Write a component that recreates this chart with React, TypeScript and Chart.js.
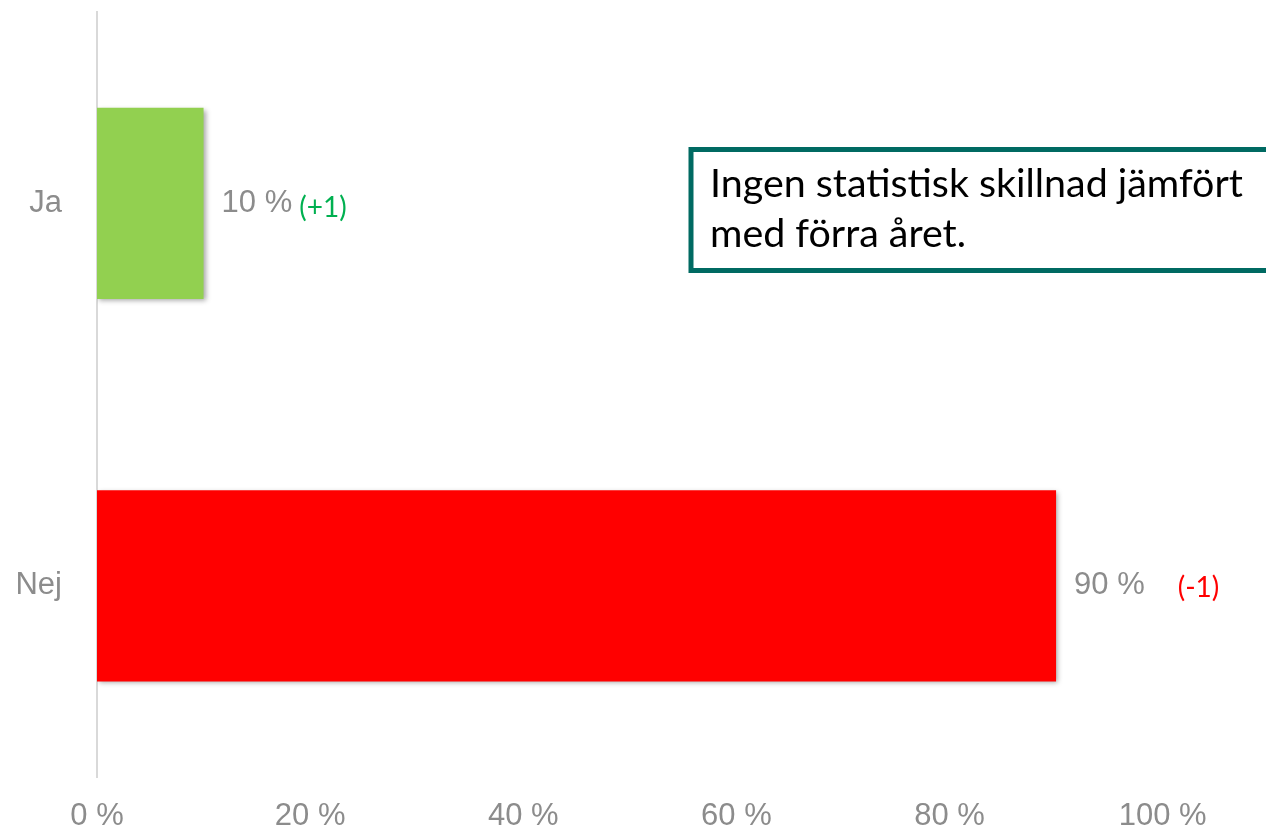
import React, { useEffect, useRef } from "react";
import { Chart, registerables } from "chart.js";

Chart.register(...registerables);

const categories = ["Ja", "Nej"];
const values = [10, 90];
const changes = ["(+1)", "(-1)"];
const barColors = ["#92d050", "#ff0000"];
const changeColors = ["#00b050", "#ff0000"];
const xTicks = [0, 20, 40, 60, 80, 100];
const noteLines = ["Ingen statistisk skillnad jämfört", "med förra året."];

const GRAY = "#8c8c8c";
const TEAL = "#006a62";
const SANS = '"Liberation Sans", Arial, sans-serif';

const shadowPlugin = {
  id: "barShadow",
  beforeDatasetsDraw(chart: any) {
    const ctx = chart.ctx;
    ctx.save();
    ctx.shadowColor = "rgba(0,0,0,0.35)";
    ctx.shadowBlur = 5;
    ctx.shadowOffsetX = 2;
    ctx.shadowOffsetY = 2;
  },
  afterDatasetsDraw(chart: any) {
    chart.ctx.restore();
  },
};

const changeGaps = [7, 33];
const changeDy = [5, 2];

const labelPlugin = {
  id: "valueLabels",
  afterDraw(chart: any) {
    const ctx = chart.ctx;
    const meta = chart.getDatasetMeta(0);
    ctx.save();
    meta.data.forEach((bar: any, i: number) => {
      const x = bar.x + 18;
      const y = bar.y;
      ctx.textAlign = "left";
      ctx.textBaseline = "middle";
      ctx.font = `31px ${SANS}`;
      ctx.fillStyle = GRAY;
      const txt = `${values[i]} %`;
      ctx.fillText(txt, x, y);
      const w = ctx.measureText(txt).width;
      ctx.font = '28px Lato, "Noto Sans", sans-serif';
      ctx.fillStyle = changeColors[i];
      ctx.fillText(changes[i], x + w + changeGaps[i], y + changeDy[i]);
    });
    ctx.restore();
  },
};

const notePlugin = {
  id: "noteBox",
  afterDraw(chart: any) {
    const ctx = chart.ctx;
    ctx.save();
    ctx.fillStyle = "#ffffff";
    ctx.fillRect(691, 149.5, 700, 121);
    ctx.strokeStyle = TEAL;
    ctx.lineWidth = 5;
    ctx.strokeRect(691, 149.5, 700, 121);
    let size = 36;
    ctx.font = `${size}px Lato, "Noto Sans", sans-serif`;
    const w = ctx.measureText(noteLines[0]).width;
    size = Math.round(size * (533 / w) * 10) / 10;
    ctx.font = `${size}px Lato, "Noto Sans", sans-serif`;
    ctx.fillStyle = "#000000";
    ctx.textAlign = "left";
    ctx.textBaseline = "alphabetic";
    ctx.fillText(noteLines[0], 710, 197);
    ctx.fillText(noteLines[1], 710, 247);
    ctx.restore();
  },
};

export default function App() {
  const ref = useRef<HTMLCanvasElement | null>(null);
  useEffect(() => {
    if (!ref.current) return;
    const chart = new Chart(ref.current, {
      type: "bar",
      data: {
        labels: categories,
        datasets: [
          {
            data: values,
            backgroundColor: barColors,
            barPercentage: 0.5,
            categoryPercentage: 1,
          },
        ],
      },
      options: {
        indexAxis: "y",
        animation: false,
        responsive: false,
        layout: { padding: { top: 12, right: 0, left: 0, bottom: 0 } },
        plugins: { legend: { display: false }, tooltip: { enabled: false } },
        scales: {
          x: {
            min: 0,
            max: 109.7,
            grid: { display: false },
            border: { display: false },
            afterBuildTicks: (s: any) => {
              s.ticks = xTicks.map((v) => ({ value: v }));
            },
            ticks: {
              callback: (v: any) => `${v} %`,
              color: GRAY,
              font: { family: SANS, size: 31 },
              padding: 13,
              maxRotation: 0,
              autoSkip: false,
            },
            afterFit: (s: any) => {
              s.height = 51;
              s.paddingLeft = 0;
              s.paddingRight = 0;
            },
          },
          y: {
            grid: { display: false },
            border: { display: true, color: "#d9d9d9", width: 2 },
            ticks: { color: GRAY, font: { family: SANS, size: 31 }, padding: 27 },
            afterFit: (s: any) => {
              s.width = 97;
              s.paddingTop = 0;
              s.paddingBottom = 0;
            },
          },
        },
      } as any,
      plugins: [shadowPlugin, labelPlugin, notePlugin],
    });
    return () => chart.destroy();
  }, []);
  return (
    <div style={{ position: "fixed", left: 0, top: 0, width: 1266, height: 828, background: "#fff" }}>
      <canvas ref={ref} width={1266} height={828} style={{ display: "block" }} />
    </div>
  );
}
